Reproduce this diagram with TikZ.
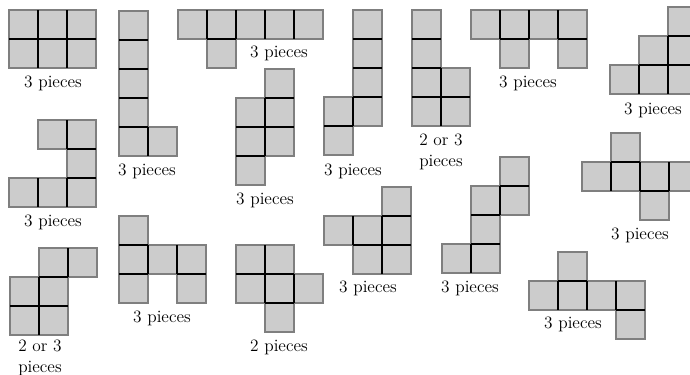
\documentclass[tikz,border=0pt]{standalone}
\usepackage{xcolor}
\usepackage{tikz}
\usetikzlibrary{positioning}
\definecolor{TileFill}{HTML}{CCCCCC}
\definecolor{TileEdge}{HTML}{7F7F7F}
\definecolor{TileSeam}{HTML}{000000}

\tikzset{
  tilecell/.style={fill=TileFill,draw=TileEdge,line width=0.8pt},
  tileseam/.style={draw=TileSeam,line width=1.3pt},
  countlabel/.style={font=\fontsize{13}{15.5}\selectfont,align=center,inner sep=0pt}
}

% #1 = name, #2 = top-left corner, #3 = cells as col/row
\newcommand\hexomino[3]{%
  \begin{scope}[shift={#2}]
    \foreach \hc/\hr in {#3} {\expandafter\gdef\csname hx#1:\hc:\hr\endcsname{}}
    \foreach \hc/\hr in {#3} {\draw[tilecell] (\hc*29,\hr*29) rectangle ++(29,29);}
    \foreach \hc/\hr in {#3} {
      \pgfmathtruncatemacro\nc{\hc+1}
      \pgfmathtruncatemacro\nr{\hr+1}
      \ifcsname hx#1:\nc:\hr\endcsname
        \draw[tileseam] (\nc*29,\hr*29) -- ++(0,29);
      \fi
      \ifcsname hx#1:\hc:\nr\endcsname
        \draw[tileseam] (\hc*29,\nr*29) -- ++(29,0);
      \fi
    }
  \end{scope}}

\begin{document}
\begin{tikzpicture}[x=0.75pt,y=-0.75pt]
  \clip (0,0) rectangle (690,375);

  % first column
  \hexomino{a}{(9,10)}{0/0,1/0,2/0,0/1,1/1,2/1}
  \node[countlabel] (lblA) at (53,83) {3 pieces};
  \hexomino{b}{(9,120)}{1/0,2/0,2/1,0/2,1/2,2/2}
  \node[countlabel] (lblB) at (53,222) {3 pieces};
  \hexomino{c}{(10,248)}{1/0,2/0,0/1,1/1,0/2,1/2}
  \node[countlabel] (lblC) at (40,358) {2 or 3\\pieces};

  % second column
  \hexomino{d}{(119,11)}{0/0,0/1,0/2,0/3,0/4,1/4}
  \node[countlabel] (lblD) at (147,171) {3 pieces};
  \hexomino{e}{(119,216)}{0/0,0/1,1/1,2/1,0/2,2/2}
  \node[countlabel] (lblE) at (162,318) {3 pieces};

  % third column
  \hexomino{f}{(178,10)}{0/0,1/0,2/0,3/0,4/0,1/1}
  \node[countlabel] (lblF) at (279,53) {3 pieces};
  \hexomino{g}{(236,69)}{1/0,0/1,1/1,0/2,1/2,0/3}
  \node[countlabel] (lblG) at (265,200) {3 pieces};
  \hexomino{h}{(236,245)}{0/0,1/0,0/1,1/1,2/1,1/2}
  \node[countlabel] (lblH) at (279,347) {2 pieces};

  % fourth column
  \hexomino{i}{(324,10)}{1/0,1/1,1/2,0/3,1/3,0/4}
  \node[countlabel] (lblI) at (353,171) {3 pieces};
  \hexomino{j}{(324,187)}{2/0,0/1,1/1,2/1,1/2,2/2}
  \node[countlabel] (lblJ) at (368,288) {3 pieces};

  % fifth column
  \hexomino{k}{(412,10)}{0/0,0/1,0/2,1/2,0/3,1/3}
  \node[countlabel] (lblK) at (441,152) {2 or 3\\pieces};
  \hexomino{l}{(442,157)}{2/0,1/1,2/1,1/2,0/3,1/3}
  \node[countlabel] (lblL) at (470,288) {3 pieces};

  % right side
  \hexomino{m}{(471,10)}{0/0,1/0,2/0,3/0,1/1,3/1}
  \node[countlabel] (lblM) at (528,83) {3 pieces};
  \hexomino{n}{(610,7)}{2/0,1/1,2/1,0/2,1/2,2/2}
  \node[countlabel] (lblN) at (653,110) {3 pieces};
  \hexomino{o}{(582,133)}{1/0,0/1,1/1,2/1,3/1,2/2}
  \node[countlabel] (lblO) at (640,235) {3 pieces};
  \hexomino{p}{(529,252)}{1/0,0/1,1/1,2/1,3/1,3/2}
  \node[countlabel] (lblP) at (573,324) {3 pieces};
\end{tikzpicture}
\end{document}
